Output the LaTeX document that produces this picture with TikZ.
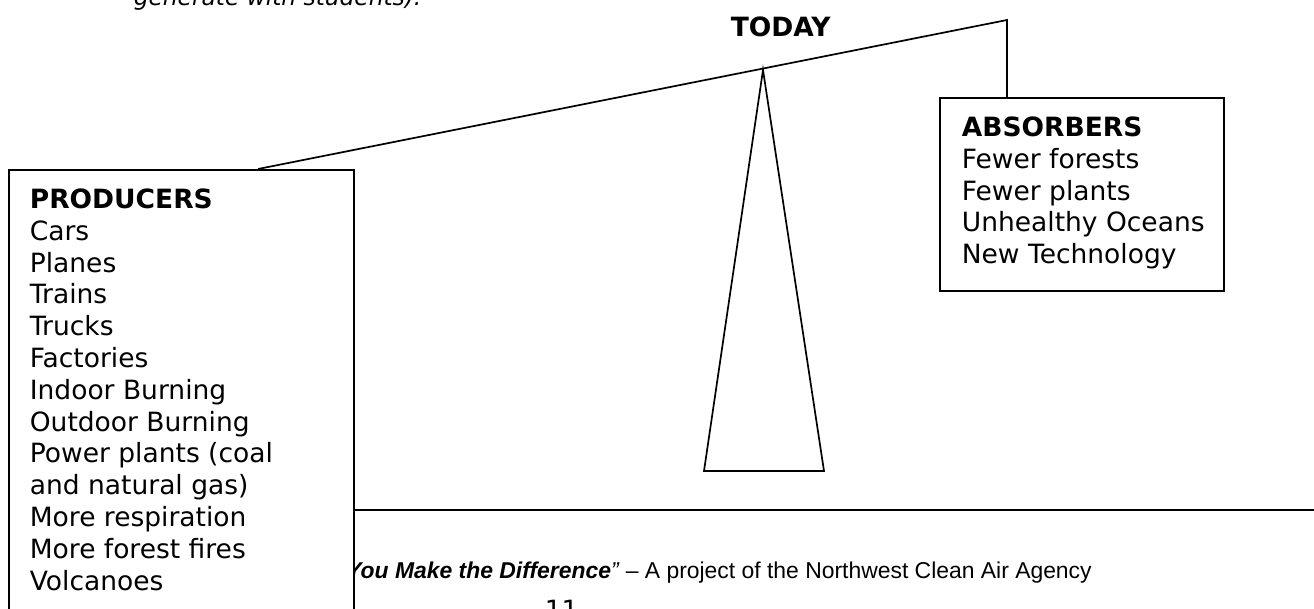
\documentclass[tikz,border=0pt]{standalone}
\usepackage{fontspec}
\setmainfont{DejaVu Sans}
\newfontfamily\footfont{Liberation Sans}
\begin{document}
\begin{tikzpicture}[x=1pt,y=-1pt,line width=1.7pt,line join=miter,
  boxshape/.style={draw,fill=white,rectangle,inner sep=0pt,anchor=north west},
  listtext/.style={anchor=north west,align=left,inner sep=0pt,font=\fontsize{26.5}{31.8}\selectfont},
  plaintext/.style={anchor=base west,inner sep=0pt,font=\fontsize{26.5}{31.8}\selectfont}]
\useasboundingbox (0,0) rectangle (1314,608);
\clip (0,0) rectangle (1314,608);
% top partial line
\node[plaintext,font=\fontsize{23.3}{28}\selectfont\itshape] (intro) at (133,5) {generate with students).};
% footer
\coordinate (footR) at (1314,510);
\node[plaintext,font=\footfont\fontsize{22.9}{28}\selectfont] (foot) at (334,578) {\textbf{\textit{“You Make the Difference}}\textit{”} – A project of the Northwest Clean Air Agency};
\node[plaintext] (page) at (544,619) {11};
% producers box
\node[boxshape,minimum width=345pt,minimum height=470pt] (prod) at (8,169) {};
\draw (prod.east |- footR) -- (footR);
\node[listtext] (prodtext) at (29,188) {\textbf{PRODUCERS}\\Cars\\Planes\\Trains\\Trucks\\Factories\\Indoor Burning\\Outdoor Burning\\Power plants (coal\\and natural gas)\\More respiration\\More forest fires\\Volcanoes};
% absorbers box
\node[boxshape,minimum width=284pt,minimum height=193pt] (abs) at (939,97) {};
\node[listtext] (abstext) at (961,116) {\textbf{ABSORBERS}\\Fewer forests\\Fewer plants\\Unhealthy Oceans\\New Technology};
% beam
\coordinate (beamL) at (258,169);
\coordinate (beamR) at (1007,20);
\draw (beamL) -- (beamR) -- (beamR |- abs.north);
\node[plaintext,font=\fontsize{26.5}{31.8}\selectfont\bfseries] (today) at (730,36) {TODAY};
% fulcrum
\coordinate (apex) at (763,70);
\coordinate (baseL) at (704,471);
\coordinate (baseR) at (824,471);
\draw (apex) -- (baseL) -- (baseR) -- cycle;
\end{tikzpicture}
\end{document}
